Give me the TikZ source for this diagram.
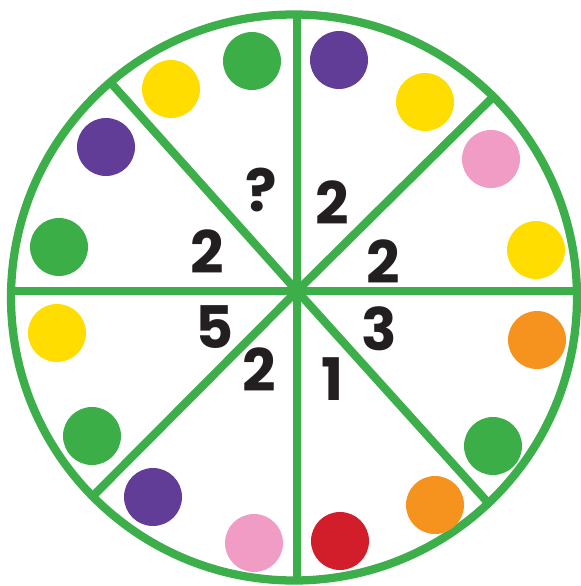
\documentclass[tikz,border=0pt]{standalone}
\usepackage{fontspec}
\newfontfamily\numfont{Poppins}
\definecolor{wgreen}{HTML}{3CAE4A}
\definecolor{dgreen}{HTML}{3BAE48}
\definecolor{dyellow}{HTML}{FFDD00}
\definecolor{dpurple}{HTML}{613D98}
\definecolor{dpink}{HTML}{F19CC4}
\definecolor{dred}{HTML}{D21E2B}
\definecolor{dorange}{HTML}{F6931E}
\definecolor{numc}{HTML}{231F20}
\begin{document}
\begin{tikzpicture}[x=0.75pt,y=-0.75pt,
  rim/.style={draw=wgreen,line width=6.2pt},
  spoke/.style={draw=wgreen,line width=6.2pt,line cap=butt},
  dot/.style={circle,inner sep=0pt,minimum size=43.5pt,fill=#1},
  num/.style={text=numc,font=\numfont\bfseries\fontsize{44}{44}\selectfont,inner sep=0pt}]
\useasboundingbox (0,0) rectangle (581,586);
\coordinate (c) at (297,291);
\coordinate (top) at (297,14);
\coordinate (bot) at (297,581);
\coordinate (lft) at (11,291);
\coordinate (rgt) at (577,291);
\coordinate (ul) at (111,83);
\coordinate (ur) at (493,97);
\coordinate (ll) at (91,498);
\coordinate (lr) at (491,506);
\draw[spoke] (top) -- (bot);
\draw[spoke] (lft) -- (rgt);
\draw[spoke] (c) -- (ul);
\draw[spoke] (c) -- (ur);
\draw[spoke] (c) -- (ll);
\draw[spoke] (c) -- (lr);
\draw[rim] (294,297.5) circle[radius=283];
% dots
\node[dot=dgreen]   (d1) at (252,61) {};
\node[dot=dyellow]  (d2) at (171,89) {};
\node[dot=dpurple]  (d3) at (106,147) {};
\node[dot=dgreen]   (d4) at (59,247) {};
\node[dot=dpurple]  (d5) at (339,60) {};
\node[dot=dyellow]  (d6) at (425,102) {};
\node[dot=dpink]    (d7) at (491,159) {};
\node[dot=dyellow]  (d8) at (536,250) {};
\node[dot=dyellow]  (d9) at (57,333) {};
\node[dot=dgreen]   (d10) at (92,436) {};
\node[dot=dpurple]  (d11) at (153,497) {};
\node[dot=dpink]    (d12) at (254,543) {};
\node[dot=dred]     (d13) at (340,541) {};
\node[dot=dorange]  (d14) at (435,505) {};
\node[dot=dgreen]   (d15) at (493,446) {};
\node[dot=dorange]  (d16) at (537,340) {};
% numbers
\node[num] (q)  at (261,190) {?};
\node[num] (n1) at (332,203) {2};
\node[num] (n2) at (207,252) {2};
\node[num] (n3) at (383,262) {2};
\node[num] (n4) at (215,327) {5};
\node[num] (n5) at (259,370) {2};
\node[num] (n6) at (333,379) {1};
\node[num] (n7) at (379,329) {3};
\end{tikzpicture}
\end{document}
